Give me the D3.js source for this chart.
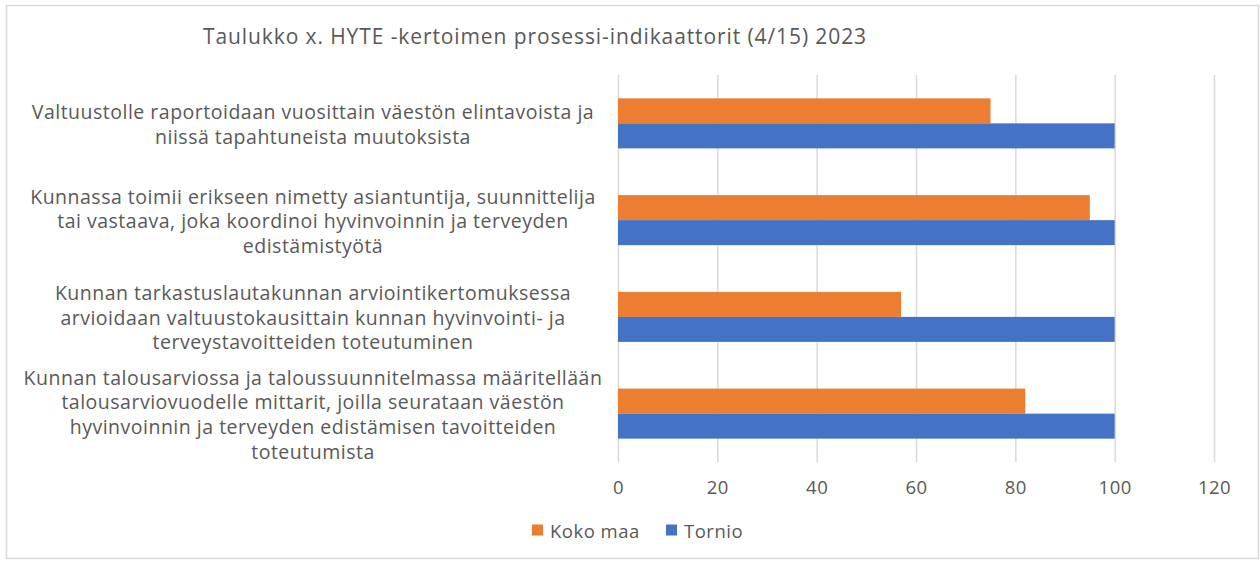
<!DOCTYPE html>
<html>
<head>
<meta charset="utf-8">
<script src="https://cdn.jsdelivr.net/npm/d3@7"></script>
<style>
    body { margin: 0; background: #fff; }
    text { font-family: "Open Sans", sans-serif; fill: #595959; }
</style>
</head>
<body>
<div id="wrapper"></div>
<script>
// category labels, already split into lines the way the original wraps them
const categories = [
    ["Valtuustolle raportoidaan vuosittain väestön elintavoista ja",
     "niissä tapahtuneista muutoksista"],
    ["Kunnassa toimii erikseen nimetty asiantuntija, suunnittelija",
     "tai vastaava, joka koordinoi hyvinvoinnin ja terveyden",
     "edistämistyötä"],
    ["Kunnan tarkastuslautakunnan arviointikertomuksessa",
     "arvioidaan valtuustokausittain kunnan hyvinvointi- ja",
     "terveystavoitteiden toteutuminen"],
    ["Kunnan talousarviossa ja taloussuunnitelmassa määritellään",
     "talousarviovuodelle mittarit, joilla seurataan väestön",
     "hyvinvoinnin ja terveyden edistämisen tavoitteiden",
     "toteutumista"]
]
const seriesNames = ["Koko maa", "Tornio"]
const kokoMaa = [75, 95, 57, 82]
const tornio = [100, 100, 100, 100]
const xTicks = [0, 20, 40, 60, 80, 100, 120]
const title = "Taulukko x. HYTE -kertoimen prosessi-indikaattorit (4/15) 2023"
const colors = ["#ED7D31", "#4472C4"]

function drawChart() {
    const dimensions = {
        width: 1260,
        height: 561,
        plot: { left: 618, right: 1214, top: 75, bottom: 462 }
    }

    const dataset = categories.map((c, i) => ({
        key: i,
        lines: c,
        values: [kokoMaa[i], tornio[i]]
    }))

    const svg = d3.select("#wrapper")
        .append("svg")
        .attr("width", dimensions.width)
        .attr("height", dimensions.height)

    svg.append("rect")
        .attr("x", 6.5)
        .attr("y", 5.5)
        .attr("width", 1252)
        .attr("height", 553)
        .attr("fill", "#fff")
        .attr("stroke", "#D9D9D9")
        .attr("stroke-width", 1.5)

    const xScale = d3.scaleLinear()
        .domain([0, 120])
        .range([dimensions.plot.left, dimensions.plot.right])

    const yScale = d3.scaleBand()
        .domain(dataset.map(d => d.key))
        .range([dimensions.plot.top, dimensions.plot.bottom])
        .paddingInner(0.483)
        .paddingOuter(0.2415)

    const subScale = d3.scaleBand()
        .domain([0, 1])
        .range([0, yScale.bandwidth()])

    // gridlines + tick labels via axis
    const xAxisGenerator = d3.axisBottom(xScale)
        .tickValues(xTicks)
        .tickSize(-(dimensions.plot.bottom - dimensions.plot.top))
        .tickPadding(19)

    const xAxis = svg.append("g")
        .attr("transform", `translate(0, ${dimensions.plot.bottom})`)
        .call(xAxisGenerator)

    xAxis.select(".domain").remove()
    xAxis.selectAll(".tick line")
        .attr("stroke", "#D9D9D9")
        .attr("stroke-width", 1.5)
    xAxis.selectAll(".tick text")
        .attr("fill", "#595959")
        .style("font-size", "18.5px")
        .style("letter-spacing", "0.5px")
        .style("font-family", "'Open Sans', sans-serif")

    const groups = svg.append("g")
        .selectAll("g")
        .data(dataset)
        .join("g")
        .attr("transform", d => `translate(0, ${yScale(d.key)})`)

    groups.selectAll("rect")
        .data(d => d.values.map((v, j) => ({ j, v })))
        .join("rect")
        .attr("x", xScale(0))
        .attr("y", d => subScale(d.j))
        .attr("width", d => xScale(d.v) - xScale(0))
        .attr("height", subScale.bandwidth())
        .attr("fill", d => colors[d.j])

    // category labels
    const lineHeight = 24.6
    const labels = svg.append("g")
        .selectAll("text")
        .data(dataset)
        .join("text")
        .attr("text-anchor", "middle")
        .attr("dominant-baseline", "central")
        .style("font-size", "19.5px")
        .style("letter-spacing", "0.5px")

    labels.each(function (d) {
        const cy = yScale(d.key) + yScale.bandwidth() / 2
        const n = d.lines.length
        d3.select(this).selectAll("tspan")
            .data(d.lines)
            .join("tspan")
            .attr("x", 313)
            .attr("y", (l, k) => cy + (k - (n - 1) / 2) * lineHeight)
            .text(l => l)
    })

    svg.append("text")
        .attr("x", 535)
        .attr("y", 36)
        .attr("text-anchor", "middle")
        .attr("dominant-baseline", "central")
        .style("font-size", "21px")
        .style("letter-spacing", "0.9px")
        .text(title)

    // legend
    const legend = svg.append("g")
        .attr("transform", "translate(532, 530)")

    const legendItems = legend.selectAll("g")
        .data(seriesNames)
        .join("g")
        .attr("transform", (d, i) => `translate(${i * 134}, 0)`)

    legendItems.append("rect")
        .attr("x", 0)
        .attr("y", -5.5)
        .attr("width", 11)
        .attr("height", 11)
        .attr("fill", (d, i) => colors[i])

    legendItems.append("text")
        .attr("x", 18)
        .attr("dominant-baseline", "central")
        .style("font-size", "18.5px")
        .style("letter-spacing", "0.5px")
        .text(d => d)
}

drawChart()
</script>
</body>
</html>
